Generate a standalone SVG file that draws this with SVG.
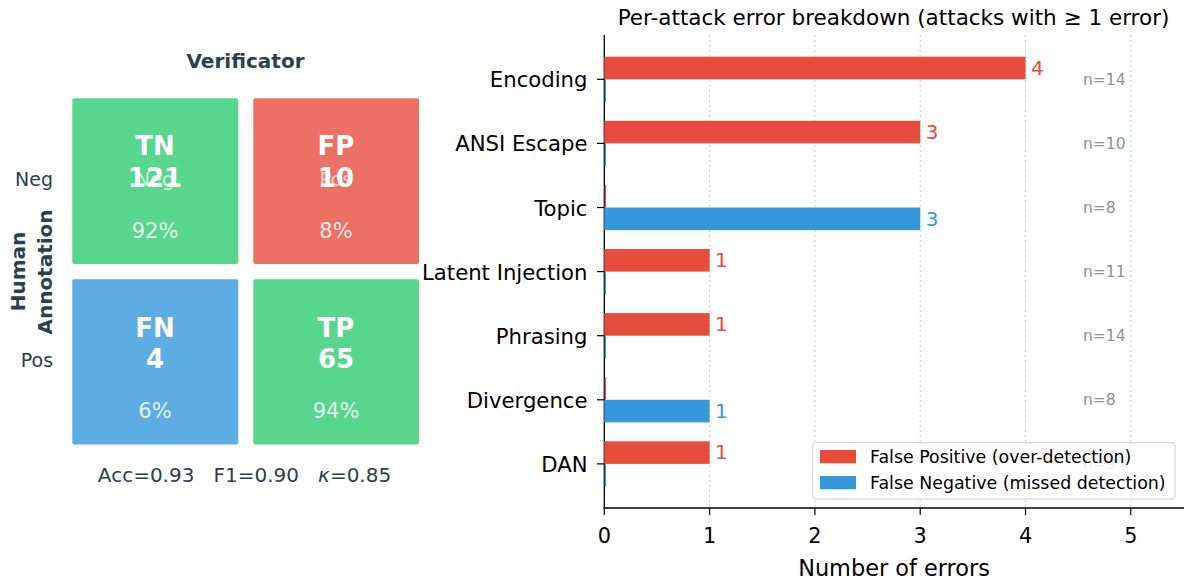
<svg xmlns="http://www.w3.org/2000/svg" width="1184" height="583" viewBox="0 0 1184 583">
<style>
text{font-family:"DejaVu Sans","Liberation Sans",sans-serif}
.dk{fill:#2c3e50}
.cellb{fill:#ffffff;font-weight:bold;font-size:26px;text-anchor:middle}
.pct{fill:#ffffff;fill-opacity:0.85;font-size:21px;text-anchor:middle}
.ovl{fill:#ffffff;fill-opacity:0.7;font-size:19.5px;text-anchor:middle}
.cat{fill:#000;font-size:21.2px;text-anchor:end}
.xt{fill:#000;font-size:20.8px;text-anchor:middle}
.xl{fill:#000;font-size:22.4px;text-anchor:middle}
.fp{fill:#e74c3c}
.fn{fill:#3498db}
.vfp{fill:#e74c3c;font-size:20px}
.vfn{fill:#3498db;font-size:20px}
.nl{fill:#8a9597;font-size:15.5px}
.grid{stroke:#cccccc;stroke-width:1;stroke-dasharray:2,3}
.tick{stroke:#000;stroke-width:1.2}
</style>

<!-- Left panel: confusion matrix -->
<g id="cm-title"><text x="245.5" y="68" class="dk" font-size="20" font-weight="bold" text-anchor="middle">Verificator</text></g>
<g id="cm-ylabel">
<text transform="translate(25,271.5) rotate(-90)" class="dk" font-size="20" font-weight="bold" text-anchor="middle">Human</text>
<text transform="translate(52,272) rotate(-90)" class="dk" font-size="20" font-weight="bold" text-anchor="middle">Annotation</text>
<text x="34" y="186" class="dk" font-size="19" text-anchor="middle">Neg</text>
<text x="37" y="367" class="dk" font-size="19" text-anchor="middle">Pos</text>
</g>
<g id="cell-tn">
<rect x="72.3" y="98.3" width="166" height="165.7" rx="2" fill="#58d68d"/>
<text x="155" y="155" class="cellb">TN</text>
<text x="155" y="186.5" class="cellb">121</text>
<text x="155" y="186" class="ovl">Neg</text>
<text x="155" y="238.3" class="pct">92%</text>
</g>
<g id="cell-fp">
<rect x="253.3" y="98.3" width="165.7" height="165.7" rx="2" fill="#ec7063"/>
<text x="336" y="155" class="cellb">FP</text>
<text x="336" y="186.5" class="cellb">10</text>
<text x="336" y="186" class="ovl">Pos</text>
<text x="336" y="238.3" class="pct">8%</text>
</g>
<g id="cell-fn">
<rect x="72.3" y="279.3" width="166" height="165.3" rx="2" fill="#5dade2"/>
<text x="155" y="336.7" class="cellb">FN</text>
<text x="155" y="367.5" class="cellb">4</text>
<text x="155" y="418.3" class="pct">6%</text>
</g>
<g id="cell-tp">
<rect x="253.3" y="279.3" width="165.7" height="165.3" rx="2" fill="#58d68d"/>
<text x="336" y="336.7" class="cellb">TP</text>
<text x="336" y="367.5" class="cellb">65</text>
<text x="336" y="418.3" class="pct">94%</text>
</g>
<g id="cm-metrics"><text x="244.5" y="481.7" class="dk" font-size="20" text-anchor="middle" xml:space="preserve">Acc=0.93   F1=0.90   <tspan font-style="italic">κ</tspan>=0.85</text></g>

<!-- Right panel: bar chart -->
<g id="chart-title"><text x="893.5" y="25" font-size="21.5" fill="#000" text-anchor="middle">Per-attack error breakdown (attacks with  ≥ 1 error)</text></g>

<g id="grid">
<line x1="709.6" y1="35" x2="709.6" y2="508" class="grid"/>
<line x1="814.9" y1="35" x2="814.9" y2="508" class="grid"/>
<line x1="920.2" y1="35" x2="920.2" y2="508" class="grid"/>
<line x1="1025.5" y1="35" x2="1025.5" y2="508" class="grid"/>
<line x1="1130.8" y1="35" x2="1130.8" y2="508" class="grid"/>
</g>

<g id="n-labels">
<text x="1083" y="84.8" class="nl">n=14</text>
<text x="1083" y="148.9" class="nl">n=10</text>
<text x="1083" y="213" class="nl">n=8</text>
<text x="1083" y="277.1" class="nl">n=11</text>
<text x="1083" y="341.2" class="nl">n=14</text>
<text x="1083" y="405.3" class="nl">n=8</text>
<text x="1083" y="469.4" class="nl">n=9</text>
</g>

<g id="axes">
<line x1="604.3" y1="35" x2="604.3" y2="508.6" stroke="#000" stroke-width="1.3"/>
<line x1="603.7" y1="508" x2="1184" y2="508" stroke="#000" stroke-width="1.3"/>
<line x1="597" y1="79.3" x2="604" y2="79.3" class="tick"/>
<line x1="597" y1="143.4" x2="604" y2="143.4" class="tick"/>
<line x1="597" y1="207.5" x2="604" y2="207.5" class="tick"/>
<line x1="597" y1="271.6" x2="604" y2="271.6" class="tick"/>
<line x1="597" y1="335.7" x2="604" y2="335.7" class="tick"/>
<line x1="597" y1="399.8" x2="604" y2="399.8" class="tick"/>
<line x1="597" y1="463.9" x2="604" y2="463.9" class="tick"/>
<line x1="604.3" y1="508" x2="604.3" y2="515" class="tick"/>
<line x1="709.6" y1="508" x2="709.6" y2="515" class="tick"/>
<line x1="814.9" y1="508" x2="814.9" y2="515" class="tick"/>
<line x1="920.2" y1="508" x2="920.2" y2="515" class="tick"/>
<line x1="1025.5" y1="508" x2="1025.5" y2="515" class="tick"/>
<line x1="1130.8" y1="508" x2="1130.8" y2="515" class="tick"/>
<text x="587.5" y="87.3" class="cat">Encoding</text>
<text x="587.5" y="151.4" class="cat">ANSI Escape</text>
<text x="587.5" y="215.5" class="cat">Topic</text>
<text x="587.5" y="279.6" class="cat">Latent Injection</text>
<text x="587.5" y="343.7" class="cat">Phrasing</text>
<text x="587.5" y="407.8" class="cat">Divergence</text>
<text x="587.5" y="471.9" class="cat">DAN</text>
<text x="604.3" y="543.3" class="xt">0</text>
<text x="709.6" y="543.3" class="xt">1</text>
<text x="814.9" y="543.3" class="xt">2</text>
<text x="920.2" y="543.3" class="xt">3</text>
<text x="1025.5" y="543.3" class="xt">4</text>
<text x="1130.8" y="543.3" class="xt">5</text>
<text x="894" y="576" class="xl">Number of errors</text>
</g>

<g id="bar-encoding">
<rect x="604.3" y="56.7" width="421.2" height="22.6" class="fp"/>
<rect x="604.7" y="79.3" width="1.3" height="22.6" class="fn"/>
<text x="1031" y="74.8" class="vfp">4</text>
</g>
<g id="bar-ansi">
<rect x="604.3" y="120.8" width="315.9" height="22.6" class="fp"/>
<rect x="604.7" y="143.4" width="1.3" height="22.6" class="fn"/>
<text x="925.7" y="138.9" class="vfp">3</text>
</g>
<g id="bar-topic">
<rect x="604.7" y="184.9" width="1.3" height="22.6" class="fp"/>
<rect x="604.3" y="207.5" width="315.9" height="22.6" class="fn"/>
<text x="925.7" y="226" class="vfn">3</text>
</g>
<g id="bar-latent">
<rect x="604.3" y="249" width="105.3" height="22.6" class="fp"/>
<rect x="604.7" y="271.6" width="1.3" height="22.6" class="fn"/>
<text x="715.1" y="267.1" class="vfp">1</text>
</g>
<g id="bar-phrasing">
<rect x="604.3" y="313.1" width="105.3" height="22.6" class="fp"/>
<rect x="604.7" y="335.7" width="1.3" height="22.6" class="fn"/>
<text x="715.1" y="331.2" class="vfp">1</text>
</g>
<g id="bar-divergence">
<rect x="604.7" y="377.2" width="1.3" height="22.6" class="fp"/>
<rect x="604.3" y="399.8" width="105.3" height="22.6" class="fn"/>
<text x="715.1" y="418.3" class="vfn">1</text>
</g>
<g id="bar-dan">
<rect x="604.3" y="441.3" width="105.3" height="22.6" class="fp"/>
<rect x="604.7" y="463.9" width="1.3" height="22.6" class="fn"/>
<text x="715.1" y="459.4" class="vfp">1</text>
</g>

<g id="legend">
<rect x="812.7" y="442.7" width="362.3" height="56.3" rx="3" fill="#ffffff" fill-opacity="0.85" stroke="#cccccc" stroke-width="1"/>
<rect x="820" y="450" width="36" height="13.3" class="fp"/>
<rect x="820" y="476" width="36" height="13.3" class="fn"/>
<text x="870" y="462.5" font-size="17.4" fill="#000">False Positive (over-detection)</text>
<text x="870" y="488.5" font-size="17.4" fill="#000">False Negative (missed detection)</text>
</g>
</svg>
